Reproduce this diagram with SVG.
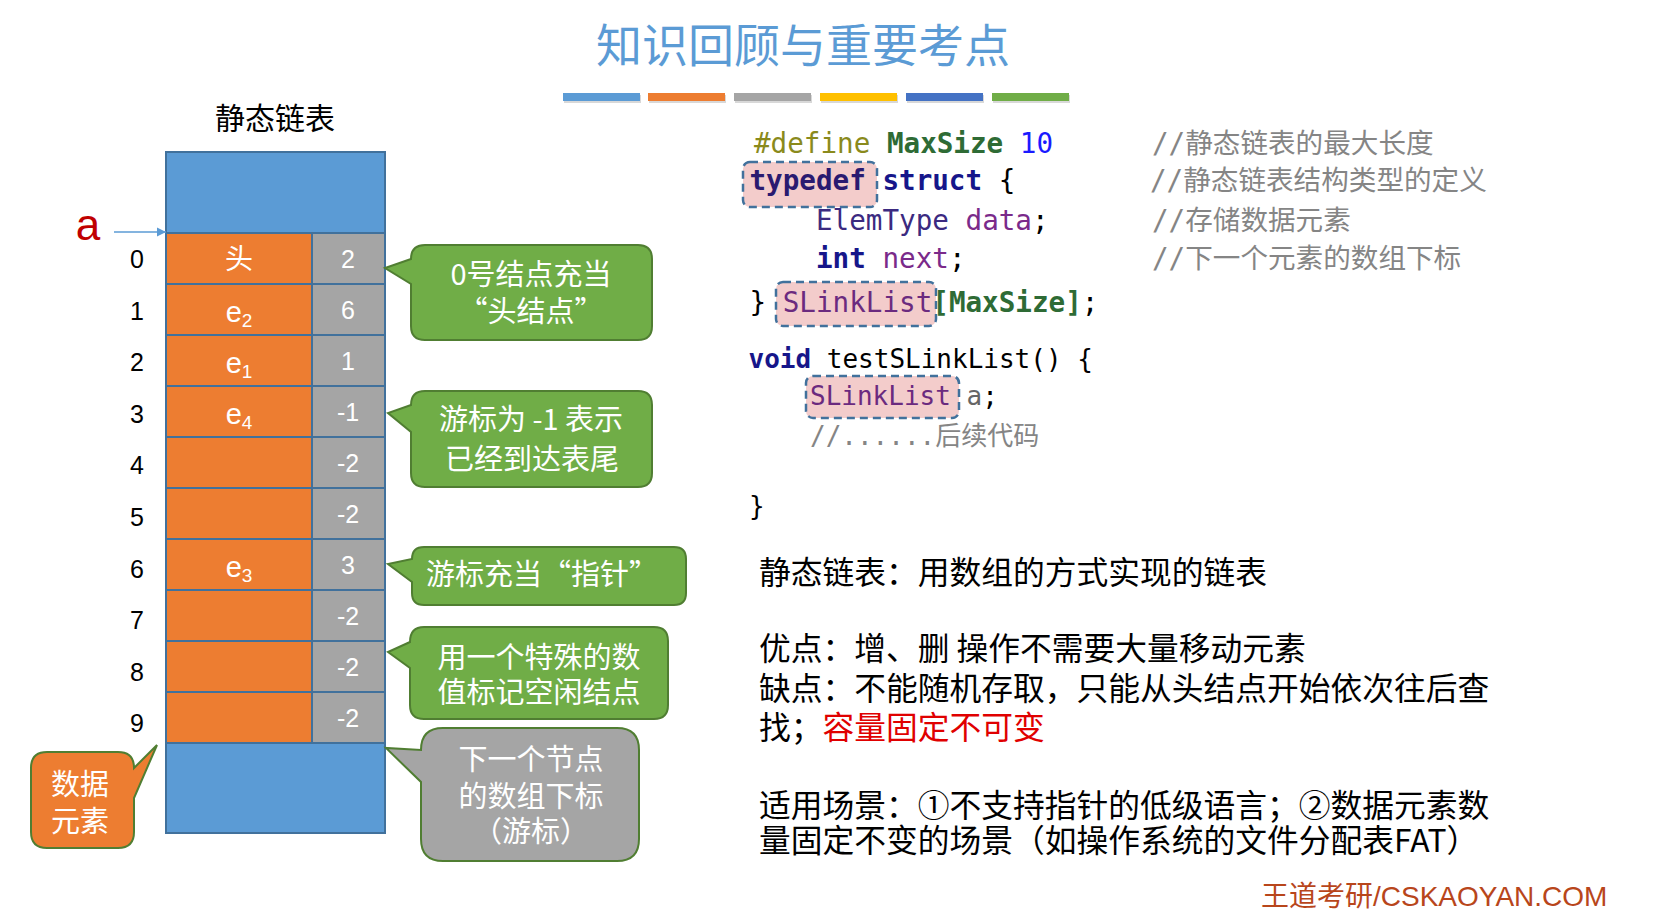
<svg xmlns="http://www.w3.org/2000/svg" width="1658" height="912" viewBox="0 0 1658 912">
<defs>
<marker id="arr" markerWidth="10" markerHeight="10" refX="9" refY="5" orient="auto" markerUnits="userSpaceOnUse">
<path d="M0,0.5 L9,5 L0,9.5 Z" fill="#5B9BD5"/>
</marker>
</defs>
<style>
.cjk{font-family:"Noto Sans CJK SC","Noto Sans",sans-serif;}
.lat{font-family:"Liberation Sans",Arial,sans-serif;}
.mono{font-family:"DejaVu Sans Mono","Noto Sans CJK SC",monospace;}
.cell{stroke:#41719C;stroke-width:2;}
.blue{fill:#5B9BD5;}
.org{fill:#ED7D31;}
.gry{fill:#A5A5A5;}
.wt{fill:#FFFFFF;}
.idx{font-family:"Liberation Sans",Arial,sans-serif;font-size:25px;fill:#000;text-anchor:middle;}
.val{font-family:"Liberation Sans",Arial,sans-serif;font-size:25px;fill:#FFFFFF;text-anchor:middle;}
.el{font-family:"Liberation Sans","Noto Sans CJK SC",sans-serif;font-size:29px;fill:#FFFFFF;text-anchor:middle;}
.call{stroke:#507E32;stroke-width:2;}
.ct{font-family:"Noto Sans CJK SC",sans-serif;font-size:29px;fill:#FFFFFF;text-anchor:middle;}
.hl{fill:#F3CCCB;stroke:#41719C;stroke-width:2.5;stroke-dasharray:8 5;}
.c1{font-size:27.6px;}
.c2{font-size:26px;}
.b{font-weight:bold;}
.olive{fill:#8A8A1C;}
.grn{fill:#2E6B35;}
.num{fill:#1A1AFF;}
.navy{fill:#16168A;}
.indigo{fill:#2A1A70;}
.slate{fill:#3B2A80;}
.purp{fill:#7A2A8A;}
.sl{fill:#6B2A7F;}
.cm{fill:#858585;}
.blk{fill:#000000;}
.body{font-family:"Noto Sans CJK SC",sans-serif;font-size:31.75px;fill:#000;}
.bar{height:8px;}
</style>
<rect width="1658" height="912" fill="#FFFFFF"/>

<g id="title">
<text class="cjk" x="803" y="62" font-size="46" fill="#5B9BD5" text-anchor="middle">知识回顾与重要考点</text>
</g>

<g id="colorbars">
<g fill="#000" opacity="0.15">
<rect x="564" y="95" width="77" height="8"/>
<rect x="649" y="95" width="77" height="8"/>
<rect x="735" y="95" width="77" height="8"/>
<rect x="821" y="95" width="77" height="8"/>
<rect x="907" y="95" width="77" height="8"/>
<rect x="993" y="95" width="77" height="8"/>
</g>
<rect x="563" y="93" width="77" height="8" fill="#5B9BD5"/>
<rect x="648" y="93" width="77" height="8" fill="#ED7D31"/>
<rect x="734" y="93" width="77" height="8" fill="#A5A5A5"/>
<rect x="820" y="93" width="77" height="8" fill="#FFC000"/>
<rect x="906" y="93" width="77" height="8" fill="#4472C4"/>
<rect x="992" y="93" width="77" height="8" fill="#70AD47"/>
</g>

<g id="table-header">
<text class="cjk" x="275" y="129" font-size="30" fill="#000" text-anchor="middle">静态链表</text>
</g>

<g id="pointer-a">
<text class="lat" x="88" y="240" font-size="44" fill="#C00000" text-anchor="middle">a</text>
</g>

<g id="static-array">
<rect class="cell blue" x="166" y="152" width="219" height="81"/>
<rect class="cell org" x="166" y="233" width="146" height="51"/><rect class="cell gry" x="312" y="233" width="73" height="51"/>
<rect class="cell org" x="166" y="284" width="146" height="51"/><rect class="cell gry" x="312" y="284" width="73" height="51"/>
<rect class="cell org" x="166" y="335" width="146" height="51"/><rect class="cell gry" x="312" y="335" width="73" height="51"/>
<rect class="cell org" x="166" y="386" width="146" height="51"/><rect class="cell gry" x="312" y="386" width="73" height="51"/>
<rect class="cell org" x="166" y="437" width="146" height="51"/><rect class="cell gry" x="312" y="437" width="73" height="51"/>
<rect class="cell org" x="166" y="488" width="146" height="51"/><rect class="cell gry" x="312" y="488" width="73" height="51"/>
<rect class="cell org" x="166" y="539" width="146" height="51"/><rect class="cell gry" x="312" y="539" width="73" height="51"/>
<rect class="cell org" x="166" y="590" width="146" height="51"/><rect class="cell gry" x="312" y="590" width="73" height="51"/>
<rect class="cell org" x="166" y="641" width="146" height="51"/><rect class="cell gry" x="312" y="641" width="73" height="51"/>
<rect class="cell org" x="166" y="692" width="146" height="51"/><rect class="cell gry" x="312" y="692" width="73" height="51"/>
<rect class="cell blue" x="166" y="743" width="219" height="90"/>

<text class="idx" x="137" y="268">0</text>
<text class="idx" x="137" y="319.6">1</text>
<text class="idx" x="137" y="371.2">2</text>
<text class="idx" x="137" y="422.8">3</text>
<text class="idx" x="137" y="474.4">4</text>
<text class="idx" x="137" y="526">5</text>
<text class="idx" x="137" y="577.6">6</text>
<text class="idx" x="137" y="629.2">7</text>
<text class="idx" x="137" y="680.8">8</text>
<text class="idx" x="137" y="732.4">9</text>

<text class="cjk" x="239" y="268.5" font-size="28" fill="#FFFFFF" text-anchor="middle">头</text>
<text class="el" x="239" y="321.5">e<tspan font-size="19" dy="5">2</tspan></text>
<text class="el" x="239" y="372.5">e<tspan font-size="19" dy="5">1</tspan></text>
<text class="el" x="239" y="423.5">e<tspan font-size="19" dy="5">4</tspan></text>
<text class="el" x="239" y="576.5">e<tspan font-size="19" dy="5">3</tspan></text>

<text class="val" x="348" y="267.5">2</text>
<text class="val" x="348" y="318.5">6</text>
<text class="val" x="348" y="369.5">1</text>
<text class="val" x="348" y="420.5">-1</text>
<text class="val" x="348" y="471.5">-2</text>
<text class="val" x="348" y="522.5">-2</text>
<text class="val" x="348" y="573.5">3</text>
<text class="val" x="348" y="624.5">-2</text>
<text class="val" x="348" y="675.5">-2</text>
<text class="val" x="348" y="726.5">-2</text>
</g>

<g id="connectors">
<line x1="114" y1="232" x2="166" y2="232" stroke="#5B9BD5" stroke-width="1.5" marker-end="url(#arr)"/>
</g>

<g id="callout-head">
<path class="call" fill="#70AD47" d="M425,245 H638 Q652,245 652,259 V326 Q652,340 638,340 H425 Q411,340 411,326 V284 L385,268 L411,259 Q411,245 425,245 Z"/>
<text class="ct" x="531" y="285">0号结点充当</text>
<text class="ct" x="531" y="322">“头结点”</text>
</g>

<g id="callout-tail">
<path class="call" fill="#70AD47" d="M425,391 H638 Q652,391 652,405 V473 Q652,487 638,487 H425 Q411,487 411,473 V432 L388,413 L411,405 Q411,391 425,391 Z"/>
<text class="ct" x="531" y="430">游标为 -1 表示</text>
<text class="ct" x="532" y="470">已经到达表尾</text>
</g>

<g id="callout-cursor">
<path class="call" fill="#70AD47" d="M424,547 H674 Q686,547 686,559 V593 Q686,605 674,605 H424 Q412,605 412,593 V582 L388,564 L412,559 Q412,547 424,547 Z"/>
<text class="ct" x="542" y="585">游标充当“指针”</text>
</g>

<g id="callout-free">
<path class="call" fill="#70AD47" d="M424,627 H654 Q668,627 668,641 V705 Q668,719 654,719 H424 Q410,719 410,705 V668 L388,652 L410,642 Q410,627 424,627 Z"/>
<text class="ct" x="539" y="668">用一个特殊的数</text>
<text class="ct" x="539" y="703">值标记空闲结点</text>
</g>

<g id="callout-next">
<path class="call" fill="#A5A5A5" d="M443,728 H617 Q639,728 639,750 V839 Q639,861 617,861 H443 Q421,861 421,839 V782 L386,748 L421,750 Q421,728 443,728 Z"/>
<text class="ct" x="531" y="770">下一个节点</text>
<text class="ct" x="531" y="807">的数组下标</text>
<text class="ct" x="531" y="842">（游标）</text>
</g>

<g id="callout-data">
<path class="call" fill="#ED7D31" d="M47,752 H118 Q134,752 134,768 L157,745 L134,798 V832 Q134,848 118,848 H47 Q31,848 31,832 V768 Q31,752 47,752 Z"/>
<text class="ct" x="80" y="795">数据</text>
<text class="ct" x="80" y="832">元素</text>
</g>

<g id="code">
<rect class="hl" x="743" y="162" width="134" height="45" rx="7"/>
<rect class="hl" x="776" y="282" width="160" height="44" rx="7"/>
<rect class="hl" x="806" y="376" width="153" height="42" rx="7"/>

<text class="mono c1" x="754" y="153" xml:space="preserve"><tspan class="olive">#define</tspan> <tspan class="grn b">MaxSize</tspan> <tspan class="num">10</tspan></text>
<text class="mono c1" x="749.5" y="190" xml:space="preserve"><tspan class="indigo b">typedef</tspan> <tspan class="navy b">struct</tspan> <tspan class="blk">{</tspan></text>
<text class="mono c1" x="816" y="230" xml:space="preserve"><tspan class="slate">ElemType</tspan> <tspan class="purp">data</tspan><tspan class="blk">;</tspan></text>
<text class="mono c1" x="816" y="268" xml:space="preserve"><tspan class="navy b">int</tspan> <tspan class="purp">next</tspan><tspan class="blk">;</tspan></text>
<text class="mono c1" x="749.5" y="312" xml:space="preserve"><tspan class="blk">}</tspan> <tspan class="sl">SLinkList</tspan><tspan class="grn b">[MaxSize]</tspan><tspan class="blk">;</tspan></text>

<text class="mono c1 cm" x="1152" y="153">//静态链表的最大长度</text>
<text class="mono c1 cm" x="1150" y="190">//静态链表结构类型的定义</text>
<text class="mono c1 cm" x="1152" y="230">//存储数据元素</text>
<text class="mono c1 cm" x="1152" y="268">//下一个元素的数组下标</text>

<text class="mono c2" x="748.5" y="368" xml:space="preserve"><tspan class="navy b">void</tspan> <tspan class="blk">testSLinkList() {</tspan></text>
<text class="mono c2" x="810" y="405" xml:space="preserve"><tspan class="sl">SLinkList</tspan> <tspan fill="#666666">a</tspan><tspan class="blk">;</tspan></text>
<text class="mono c2 cm" x="810" y="445">//......后续代码</text>
<text class="mono c2 blk" x="749" y="515">}</text>
</g>

<g id="notes">
<text class="body" x="759" y="584">静态链表：用数组的方式实现的链表</text>
<text class="body" x="759" y="660" xml:space="preserve">优点：增、删 操作不需要大量移动元素</text>
<text class="body" x="759" y="700">缺点：不能随机存取，只能从头结点开始依次往后查</text>
<text class="body" x="759" y="739">找；<tspan fill="#E00000">容量固定不可变</tspan></text>
<text class="body" x="759" y="817">适用场景：①不支持指针的低级语言；②数据元素数</text>
<text class="body" x="759" y="852">量固定不变的场景（如操作系统的文件分配表FAT）</text>
</g>

<g id="footer">
<text class="cjk" x="1261" y="906" font-size="28" fill="#B8461B" style="font-family:'Liberation Sans','Noto Sans CJK SC',sans-serif">王道考研/CSKAOYAN.COM</text>
</g>
</svg>
